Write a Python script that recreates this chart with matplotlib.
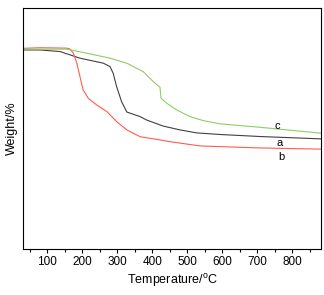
import matplotlib
matplotlib.use("Agg")
import matplotlib.pyplot as plt
from matplotlib.ticker import MultipleLocator

plt.rcParams['font.family'] = ['Liberation Sans', 'DejaVu Sans']

# TGA curves (temperature in C, weight in %)
temp_a = [31, 78, 136, 193, 260, 279, 288, 298, 312, 327, 365, 384, 431, 479, 527, 594, 708, 886]
weight_a = [99.1, 99.1, 98.3, 95.0, 92.5, 90.8, 87.5, 80.8, 73.4, 68.2, 65.9, 64.2, 61.2, 59.3, 57.8, 57.0, 56.0, 54.8]

temp_b = [31, 78, 155, 164, 174, 184, 193, 202, 217, 241, 270, 298, 327, 365, 393, 422, 451, 537, 708, 886]
weight_b = [99.9, 100.2, 100.0, 99.6, 97.5, 92.5, 85.8, 79.2, 75.0, 71.7, 68.4, 63.4, 59.3, 55.9, 55.1, 54.3, 53.4, 51.3, 50.3, 49.7]

temp_c = [31, 155, 212, 279, 327, 365, 374, 403, 422, 425, 441, 470, 508, 546, 594, 708, 886]
weight_c = [99.5, 99.5, 97.5, 95.0, 92.5, 89.1, 88.3, 83.3, 80.5, 75.0, 72.6, 69.2, 65.9, 63.9, 62.3, 60.6, 57.6]

labels = ['a', 'b', 'c']
label_pos = [(764, 52.8), (769, 45.8), (758, 61.2)]

fig = plt.figure(figsize=(3.24, 2.95), dpi=100)
ax = fig.add_axes([0.071, 0.156, 0.92, 0.817])

ax.plot(temp_a, weight_a, color='#404040', lw=0.8)
ax.plot(temp_b, weight_b, color='#ff5c4d', lw=0.8)
ax.plot(temp_c, weight_c, color='#8fcc66', lw=0.8)

for lab, (x, y) in zip(labels, label_pos):
    ax.text(x, y, lab, fontsize=8, ha='center', va='center')

ax.set_xlim(30, 883)
ax.set_ylim(0, 120)
ax.xaxis.set_major_locator(MultipleLocator(100))
ax.xaxis.set_minor_locator(MultipleLocator(50))
ax.tick_params(axis='x', which='major', length=3, width=0.8, labelsize=8.5, pad=2)
ax.tick_params(axis='x', which='minor', length=2, width=0.8)
ax.set_yticks([])
for s in ax.spines.values():
    s.set_linewidth(0.8)

ax.set_xlabel('Temperature/$^{\\mathregular{o}}$C', fontsize=9, labelpad=3)
ax.set_ylabel('Weight/%', fontsize=9, labelpad=4)

fig.savefig('out.png', dpi=100)
